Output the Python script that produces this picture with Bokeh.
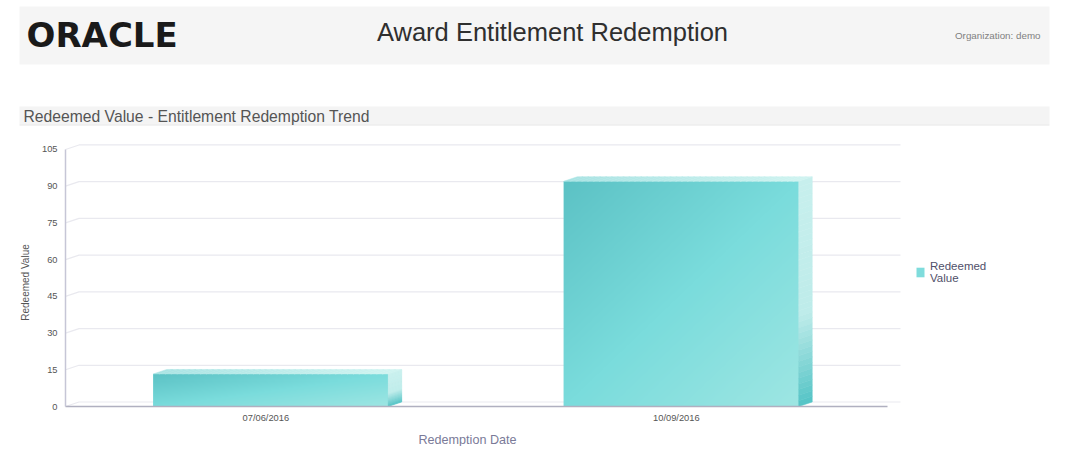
from bokeh.plotting import figure
from bokeh.models import (BoxAnnotation, Label, Legend, LegendItem, LinearAxis, Range1d, FixedTicker)
from bokeh.embed import file_html
from bokeh.resources import INLINE
import numpy as np

# ---- data
dates = ["07/06/2016", "10/09/2016"]
redeemed = [13.3, 92.0]
y_ticks = [0, 15, 30, 45, 60, 75, 90, 105]
series_name = "Redeemed\nValue"
page_title = "Award Entitlement Redemption"
section_title = "Redeemed Value - Entitlement Redemption Trend"
org_text = "Organization: demo"
x_title = "Redemption Date"
y_title = "Redeemed Value"

# ---- layout (page pixels)
W, H = 1079, 446
AX_L, AX_R, BACK_R, AX_B = 65, 887, 900, 406   # plot geometry in pixels
PX_X = 410.5                 # px per category
XMIN = -0.5                  # value at the y axis
PX_Y = 36.72 / 15            # px per value unit
DX, DY = 13.5 / PX_X, 4.5 / PX_Y   # 3-D depth in data units
HALF = 117.5 / PX_X
FONT = "Liberation Sans"
X0 = XMIN - AX_L / PX_X
X1 = X0 + W / PX_X
Y0 = -(H - AX_B) / PX_Y
Y1 = Y0 + H / PX_Y
XEND = XMIN + (AX_R - AX_L) / PX_X
XBACK = XMIN + (BACK_R - AX_L) / PX_X

p = figure(width=W, height=H, output_backend="svg", toolbar_location=None,
           x_range=Range1d(X0, X1), y_range=Range1d(Y0, Y1),
           x_axis_location=None, y_axis_location=None,
           min_border=0, background_fill_color="white", border_fill_color="white", outline_line_color=None)
p.grid.visible = False


def lerp(stops, t):
    t = np.clip(t, 0, 1)
    pos = [s[0] for s in stops]
    return [np.interp(t, pos, [s[1][i] for s in stops]) for i in range(3)]


# header bands
p.add_layout(BoxAnnotation(left=19, right=1049, top=6, bottom=64, left_units="canvas", right_units="canvas",
                           top_units="canvas", bottom_units="canvas", fill_color="#f5f5f5", fill_alpha=1,
                           line_color=None, level="underlay"))
p.add_layout(BoxAnnotation(left=19, right=1049, top=106, bottom=124, left_units="canvas", right_units="canvas",
                           top_units="canvas", bottom_units="canvas", fill_color="#f4f4f4", fill_alpha=1,
                           line_color=None, level="underlay"))
p.add_layout(BoxAnnotation(left=19, right=1049, top=124, bottom=125, left_units="canvas", right_units="canvas",
                           top_units="canvas", bottom_units="canvas", fill_color="#e6e6e6", fill_alpha=1,
                           line_color=None, level="underlay"))


def text(x, y, s, size, color, style="normal", align="left", angle=0.0, font=FONT):
    p.add_layout(Label(x=x, y=H - y, x_units="screen", y_units="screen", text=s, text_font=font,
                       text_font_size=size, text_color=color, text_font_style=style, text_align=align,
                       text_baseline="middle", angle=angle, level="overlay"))


text(26, 34, "ORACLE", "34px", "#1a1a1a", "bold", font="DejaVu Sans")
text(552, 31, page_title, "25.5px", "#2f2f2f", align="center")
text(1040, 35, org_text, "9.8px", "#808080", align="right")
text(23, 115.5, section_title, "15.7px", "#555555")
text(467, 439, x_title, "12.6px", "#7a7a98", align="center")
text(25, 282, y_title, "10px", "#555555", align="center", angle=np.pi / 2)

# back wall grid
grid_x = [[XMIN, XMIN + DX, XBACK] for _ in y_ticks]
grid_y = [[v, v + DY, v + DY] for v in y_ticks]
p.multi_line(grid_x, grid_y, line_color="#e9e9ef", line_width=1.2)

# base quads, used by the legend
bars = p.quad(left=[i - HALF for i in range(len(dates))], right=[i + HALF for i in range(len(dates))],
              bottom=[0] * len(dates), top=redeemed, fill_color="#7fdcdc", line_color=None)

FRONT = [(0, (92, 194, 197)), (0.5, (122, 220, 220)), (1, (158, 230, 227))]
SIDE = [(0, (200, 240, 238)), (0.6, (190, 236, 234)), (1, (84, 196, 198))]
TOP = [(0, (170, 228, 228)), (1, (208, 244, 241))]

for i, v in enumerate(redeemed):
    x0, x1 = i - HALF, i + HALF
    n = 256
    u, w = np.meshgrid(np.linspace(0, 1, n), np.linspace(0, 1, n))
    r, g, b = lerp(FRONT, (u + (1 - w)) / 2)
    img = (255 << 24) | (b.astype(np.uint32) << 16) | (g.astype(np.uint32) << 8) | r.astype(np.uint32)
    p.image_rgba(image=[img], x=x0, y=0, dw=x1 - x0, dh=v)
    strips = 40
    xs, ys, cs = [], [], []
    for k in range(strips):
        a, c = k / strips, (k + 1) / strips
        ya, yc = v * (1 - a), v * (1 - c)
        xs.append([x1, x1 + DX, x1 + DX, x1])
        ys.append([ya, ya + DY, yc + DY, yc])
        col = lerp(SIDE, np.array((a + c) / 2))
        cs.append("#%02x%02x%02x" % tuple(int(q) for q in col))
    p.patches(xs, ys, fill_color=cs, line_color=cs, line_width=0.5)
    xs, ys, cs = [], [], []
    for k in range(strips):
        a, c = k / strips, (k + 1) / strips
        xa, xc = x0 + (x1 - x0) * a, x0 + (x1 - x0) * c
        xs.append([xa, xc, xc + DX, xa + DX])
        ys.append([v, v, v + DY, v + DY])
        col = lerp(TOP, np.array((a + c) / 2))
        cs.append("#%02x%02x%02x" % tuple(int(q) for q in col))
    p.patches(xs, ys, fill_color=cs, line_color=cs, line_width=0.5)

# axes fixed inside the full-canvas frame
ax = LinearAxis(fixed_location=0, bounds=(XMIN, XEND),
                ticker=FixedTicker(ticks=[i - 0.012 for i in range(len(dates))]),
                major_label_overrides={i - 0.012: d for i, d in enumerate(dates)})
ay = LinearAxis(fixed_location=XMIN, bounds=(0, y_ticks[-1]), ticker=FixedTicker(ticks=y_ticks))
for a in (ax, ay):
    a.major_tick_line_color = None
    a.minor_tick_line_color = None
    a.major_tick_out = 0
    a.major_tick_in = 0
    a.axis_line_width = 1.5
    a.major_label_text_font = FONT
    a.major_label_text_font_size = "9.3px"
    a.major_label_text_color = "#555555"
ax.axis_line_color = "#b0b0c0"
ay.axis_line_color = "#c6c6d6"
ax.major_label_standoff = 6
ay.major_label_standoff = 8
p.add_layout(ax, "below")
p.add_layout(ay, "left")

legend = Legend(items=[LegendItem(label=series_name, renderers=[bars])], location=(915, H - 284),
                margin=0, padding=0, border_line_color=None, background_fill_alpha=0,
                glyph_width=10, glyph_height=12, label_standoff=5, label_text_font=FONT,
                label_text_font_size="11.5px", label_text_color="#50506a", label_height=24,
                label_text_line_height=1.05)
p.add_layout(legend, "center")

open("out.html", "w").write(file_html(p, INLINE))
